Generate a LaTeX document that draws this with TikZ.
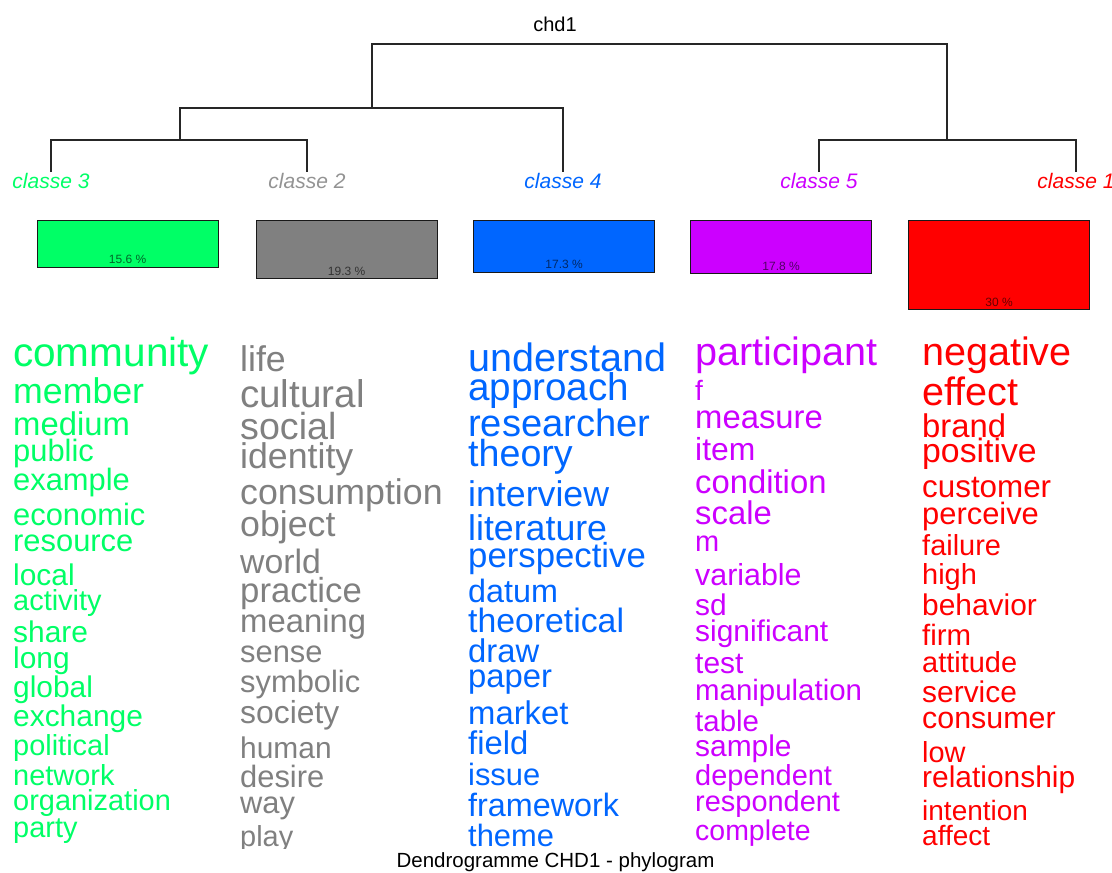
\documentclass[tikz,border=0pt]{standalone}
\usepackage{fontspec}
\setmainfont{Liberation Sans}
\definecolor{cgreen}{RGB}{0,255,102}
\definecolor{cgrey}{RGB}{128,128,128}
\definecolor{cblue}{RGB}{0,102,255}
\definecolor{cpurple}{RGB}{204,0,255}
\definecolor{cred}{RGB}{255,0,0}
\begin{document}
\begin{tikzpicture}[x=1pt,y=-1pt,
  tree/.style={line width=1.3pt, draw=black!85},
  cls/.style={font=\fontsize{21}{21}\selectfont\itshape, anchor=base, inner sep=0},
  box/.style={draw=black!90, line width=1.3pt, anchor=north west, inner sep=0, minimum width=181pt},
  pct/.style={font=\fontsize{12}{12}\selectfont, anchor=base, inner sep=0, text=black, text opacity=0.6},
  wd/.style={font=\pgfmathsetmacro\wfs{0.965*#1}\fontsize{\wfs}{\wfs}\selectfont, anchor=base west, inner sep=0},
  g/.style={wd=#1, text=cgreen},
  s/.style={wd=#1, text=cgrey},
  b/.style={wd=#1, text=cblue},
  p/.style={wd=#1, text=cpurple},
  r/.style={wd=#1, text=cred}
]
\path[use as bounding box] (0,0) rectangle (1112,873);

% dendrogram
\node[font=\fontsize{20}{20}\selectfont, anchor=base, inner sep=0] (chd) at (555,31.5) {chd1};
\coordinate (l3) at (51,172);
\coordinate (l2) at (307,172);
\coordinate (l4) at (563,172);
\coordinate (l5) at (819,172);
\coordinate (l1) at (1076,172);
\coordinate (j32) at (180,140);
\coordinate (j324) at (372,108);
\coordinate (j51) at (947,140);
\coordinate (root) at (660,44);
\draw[tree] (l3) |- (j32) -| (l2);
\draw[tree] (j32) |- (j324) -| (l4);
\draw[tree] (l5) |- (j51) -| (l1);
\draw[tree] (j324) |- (root) -| (j51);

\node[cls, text=cgreen] (c3) at (51,188) {classe~3};
\node[cls, text=cgrey!85] (c2) at (307,188) {classe~2};
\node[cls, text=cblue] (c4) at (563,188) {classe~4};
\node[cls, text=cpurple] (c5) at (819,188) {classe~5};
\node[cls, text=cred] (c1) at (1076,188) {classe~1};

% boxes
\node[box, fill=cgreen, minimum height=47pt] (b3) at (36.5,219.5) {};
\node[box, fill=cgrey, minimum height=58.5pt] (b2) at (255.5,219.5) {};
\node[box, fill=cblue, minimum height=52pt] (b4) at (473,219.5) {};
\node[box, fill=cpurple, minimum height=53.5pt] (b5) at (690,219.5) {};
\node[box, fill=cred, minimum height=89.5pt] (b1) at (908,219.5) {};
\node[pct] (p3) at ([yshift=4pt]b3.south) {15.6 \%};
\node[pct] (p2) at ([yshift=4pt]b2.south) {19.3 \%};
\node[pct] (p4) at ([yshift=4pt]b4.south) {17.3 \%};
\node[pct] (p5) at ([yshift=4pt]b5.south) {17.8 \%};
\node[pct] (p1) at ([yshift=4pt]b1.south) {30 \%};

% word lists
\begin{scope}
\clip (0,320) rectangle (1112,848);
% classe 3
\node[g=42] (g1) at (13,366.7) {community};
\node[g=37] (g2) at (13,403) {member};
\node[g=34] (g3) at (13,435) {medium};
\node[g=32] (g4) at (13,461.7) {public};
\node[g=32] (g5) at (13,490) {example};
\node[g=32] (g6) at (13,525) {economic};
\node[g=32] (g7) at (13,551.7) {resource};
\node[g=31] (g8) at (13,585) {local};
\node[g=30] (g9) at (13,610) {activity};
\node[g=31] (g10) at (13,642.7) {share};
\node[g=31] (g11) at (13,668) {long};
\node[g=31] (g12) at (13,697.7) {global};
\node[g=31] (g13) at (13,726.7) {exchange};
\node[g=30] (g14) at (13,755) {political};
\node[g=30] (g15) at (13,785) {network};
\node[g=30] (g16) at (13,810) {organization};
\node[g=30] (g17) at (13,837.5) {party};
% classe 2
\node[s=37] (s1) at (240,371.7) {life};
\node[s=40] (s2) at (240,407.3) {cultural};
\node[s=39] (s3) at (240,439) {social};
\node[s=37] (s4) at (240,468.3) {identity};
\node[s=37] (s5) at (240,504) {consumption};
\node[s=37] (s6) at (240,536) {object};
\node[s=35] (s7) at (240,573) {world};
\node[s=36] (s8) at (240,602.5) {practice};
\node[s=34] (s9) at (240,632) {meaning};
\node[s=32] (s10) at (240,662) {sense};
\node[s=32] (s11) at (240,692) {symbolic};
\node[s=33] (s12) at (240,723.5) {society};
\node[s=31] (s13) at (240,758.5) {human};
\node[s=32] (s14) at (240,787) {desire};
\node[s=32] (s15) at (240,813.5) {way};
\node[s=30] (s16) at (240,846) {play};
% classe 4
\node[b=41] (u1) at (468,371.7) {understand};
\node[b=40] (u2) at (468,400) {approach};
\node[b=39.5] (u3) at (468,436.7) {researcher};
\node[b=39] (u4) at (468,466.7) {theory};
\node[b=37] (u5) at (468,506.7) {interview};
\node[b=37] (u6) at (468,540) {literature};
\node[b=36] (u7) at (468,567) {perspective};
\node[b=33.5] (u8) at (468,602) {datum};
\node[b=35] (u9) at (468,632) {theoretical};
\node[b=34] (u10) at (468,662) {draw};
\node[b=34] (u11) at (468,687) {paper};
\node[b=34] (u12) at (468,724.5) {market};
\node[b=34] (u13) at (468,754.5) {field};
\node[b=32] (u14) at (468,785.5) {issue};
\node[b=33.5] (u15) at (468,816.5) {framework};
\node[b=32] (u16) at (468,846) {theme};
% classe 5
\node[p=41] (v1) at (695,365.5) {participant};
\node[p=29] (v2) at (695,400) {f};
\node[p=34] (v3) at (695,428.3) {measure};
\node[p=33] (v4) at (695,460) {item};
\node[p=34] (v5) at (695,493.3) {condition};
\node[p=34] (v6) at (695,524) {scale};
\node[p=30] (v7) at (695,551.7) {m};
\node[p=31.5] (v8) at (695,585) {variable};
\node[p=31] (v9) at (695,615) {sd};
\node[p=31] (v10) at (695,641.7) {significant};
\node[p=31] (v11) at (695,673.3) {test};
\node[p=30.5] (v12) at (695,700) {manipulation};
\node[p=30.5] (v13) at (695,731.7) {table};
\node[p=31] (v14) at (695,756.7) {sample};
\node[p=30] (v15) at (695,785) {dependent};
\node[p=30] (v16) at (695,811.7) {respondent};
\node[p=29.5] (v17) at (695,840.5) {complete};
% classe 1
\node[r=41] (r1) at (922,365.5) {negative};
\node[r=41] (r2) at (922,405.5) {effect};
\node[r=34] (r3) at (922,437) {brand};
\node[r=35] (r4) at (922,462.5) {positive};
\node[r=32.5] (r5) at (922,497) {customer};
\node[r=32] (r6) at (922,524) {perceive};
\node[r=30] (r7) at (922,555.5) {failure};
\node[r=30] (r8) at (922,584) {high};
\node[r=31] (r9) at (922,615.5) {behavior};
\node[r=30.5] (r10) at (922,645) {firm};
\node[r=30] (r11) at (922,672) {attitude};
\node[r=31] (r12) at (922,702) {service};
\node[r=31.5] (r13) at (922,728.5) {consumer};
\node[r=30] (r14) at (922,762) {low};
\node[r=31] (r15) at (922,787) {relationship};
\node[r=29] (r16) at (922,820.5) {intention};
\node[r=29] (r17) at (922,845) {affect};
\end{scope}

\node[font=\fontsize{20.5}{20.5}\selectfont, anchor=base, inner sep=0] (title) at (555.5,867) {Dendrogramme CHD1 - phylogram};
\end{tikzpicture}
\end{document}
